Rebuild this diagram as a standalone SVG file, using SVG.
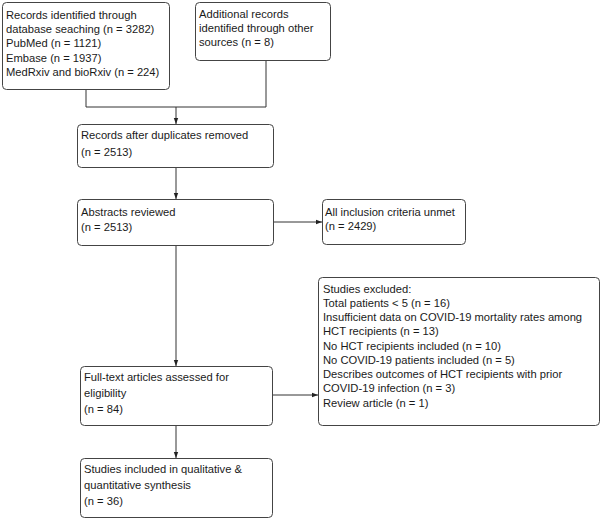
<svg xmlns="http://www.w3.org/2000/svg" width="602" height="519" viewBox="0 0 602 519">
<defs>
<style>
.box{fill:#fff;stroke:#444;stroke-width:1}
.t{font-family:"Liberation Sans",Arial,sans-serif;font-size:11.2px;fill:#1a1a1a}
.c{fill:none;stroke:#333;stroke-width:1}
</style>
<marker id="ah" viewBox="0 0 6 6" refX="6" refY="3" markerWidth="6" markerHeight="6" orient="auto" markerUnits="userSpaceOnUse">
<path d="M0,0.8 L6,3 L0,5.2 Z" fill="#222"/>
</marker>
</defs>
<rect width="602" height="519" fill="#fff"/>
<g id="connectors">
<path class="c" d="M86,89 V107 H266 V60"/>
<path class="c" d="M176,107 V124" marker-end="url(#ah)"/>
<path class="c" d="M176,167 V199" marker-end="url(#ah)"/>
<path class="c" d="M274,222 H322" marker-end="url(#ah)"/>
<path class="c" d="M176,245 V366" marker-end="url(#ah)"/>
<path class="c" d="M272,395 H318" marker-end="url(#ah)"/>
<path class="c" d="M176,425 V458" marker-end="url(#ah)"/>
</g>
<g id="n1">
<rect class="box" x="2.5" y="2.5" width="167" height="87" rx="4"/>
<text class="t"><tspan x="6" y="19">Records identified through</tspan><tspan x="6" y="33">database seaching (n = 3282)</tspan><tspan x="6" y="47">PubMed (n = 1121)</tspan><tspan x="6" y="62">Embase (n = 1937)</tspan><tspan x="6" y="76">MedRxiv and bioRxiv (n = 224)</tspan></text>
</g>
<g id="n2">
<rect class="box" x="195.5" y="2.5" width="135" height="58" rx="4"/>
<text class="t"><tspan x="199" y="18">Additional records</tspan><tspan x="199" y="32">identified through other</tspan><tspan x="199" y="46">sources (n = 8)</tspan></text>
</g>
<g id="n3">
<rect class="box" x="77.5" y="124.5" width="196" height="43" rx="4"/>
<text class="t"><tspan x="81" y="139">Records after duplicates removed</tspan><tspan x="81" y="156">(n = 2513)</tspan></text>
</g>
<g id="n4">
<rect class="box" x="77.5" y="199.5" width="196" height="46" rx="4"/>
<text class="t"><tspan x="81" y="216">Abstracts reviewed</tspan><tspan x="81" y="231">(n = 2513)</tspan></text>
</g>
<g id="n5">
<rect class="box" x="322.5" y="199.5" width="143" height="45" rx="4"/>
<text class="t"><tspan x="325" y="216">All inclusion criteria unmet</tspan><tspan x="325" y="230">(n = 2429)</tspan></text>
</g>
<g id="n6">
<rect class="box" x="318.5" y="277.5" width="281" height="148" rx="4"/>
<text class="t"><tspan x="323" y="293">Studies excluded:</tspan><tspan x="323" y="307">Total patients &lt; 5 (n = 16)</tspan><tspan x="323" y="321">Insufficient data on COVID-19 mortality rates among</tspan><tspan x="323" y="335">HCT recipients (n = 13)</tspan><tspan x="323" y="350">No HCT recipients included (n = 10)</tspan><tspan x="323" y="364">No COVID-19 patients included (n = 5)</tspan><tspan x="323" y="378">Describes outcomes of HCT recipients with prior</tspan><tspan x="323" y="392">COVID-19 infection (n = 3)</tspan><tspan x="323" y="407">Review article (n = 1)</tspan></text>
</g>
<g id="n7">
<rect class="box" x="80.5" y="366.5" width="192" height="59" rx="4"/>
<text class="t"><tspan x="84" y="381">Full-text articles assessed for</tspan><tspan x="84" y="397">eligibility</tspan><tspan x="84" y="413">(n = 84)</tspan></text>
</g>
<g id="n8">
<rect class="box" x="80.5" y="458.5" width="192" height="59" rx="4"/>
<text class="t"><tspan x="84" y="473">Studies included in qualitative &amp;</tspan><tspan x="84" y="489">quantitative synthesis</tspan><tspan x="84" y="505">(n = 36)</tspan></text>
</g>
</svg>
